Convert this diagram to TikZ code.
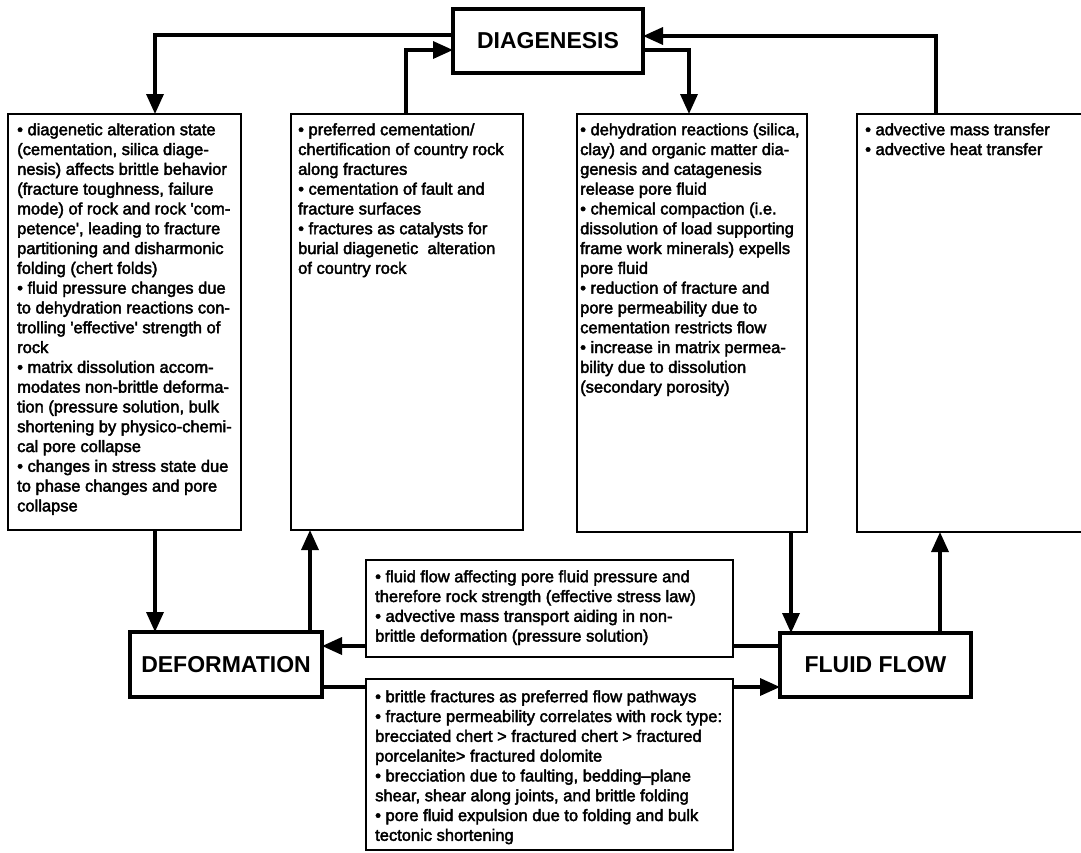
\documentclass[tikz,border=0pt]{standalone}
\usepackage{fontspec}
\setmainfont{Liberation Sans}
\newfontfamily\bodyfont{Liberation Sans}[FakeBold=2.5]
\usetikzlibrary{arrows.meta}
\newcommand{\sq}{\textquotesingle}
\newcommand{\bul}{\textbullet\ }
\tikzset{
  textframe/.style={draw=black, line width=2pt, inner sep=0pt, outer sep=0pt, anchor=north west},
  keybox/.style={draw=black, line width=3.6pt, inner sep=0pt, outer sep=0pt, font=\bfseries\fontsize{23}{27}\selectfont},
  txt/.style={anchor=north west, inner sep=0pt, align=left, font=\bodyfont\fontsize{16.5}{19.8}\selectfont},
  conn/.style={line width=3.4pt, -{Triangle[length=20pt,width=17pt]}},
  bareline/.style={line width=3.4pt},
}
\begin{document}
\begin{tikzpicture}[x=1pt,y=-1pt]
\useasboundingbox (0,0) rectangle (1081,852);
\clip (0,0) rectangle (1081,852);
\fill[white] (0,0) rectangle (1081,852);

% key boxes
\node[keybox, minimum width=190pt, minimum height=64pt] (diag) at (548,41) {DIAGENESIS};
\node[keybox, minimum width=192pt, minimum height=65pt] (def) at (226,664.5) {DEFORMATION};
\node[keybox, minimum width=191pt, minimum height=64pt] (ff) at (875.5,665) {FLUID FLOW};

% text frames
\node[textframe, minimum width=233pt, minimum height=416pt] (b1) at (8,114) {};
\node[textframe, minimum width=232pt, minimum height=416pt] (b2) at (291,114) {};
\node[textframe, minimum width=230pt, minimum height=418pt] (b3) at (577,114) {};
\node[textframe, minimum width=240pt, minimum height=418pt] (b4) at (857,114) {};
\node[textframe, minimum width=367pt, minimum height=97pt] (m1) at (366,560) {};
\node[textframe, minimum width=367pt, minimum height=171pt] (m2) at (366,679) {};

% texts
\node[txt] (t1) at (17,122) {\rule{0pt}{13pt}\bul diagenetic alteration state\\
(cementation, silica diage-\\
nesis) affects brittle behavior\\
(fracture toughness, failure\\
mode) of rock and rock \sq com-\\
petence\sq, leading to fracture\\
partitioning and disharmonic\\
folding (chert folds)\\
\bul fluid pressure changes due\\
to dehydration reactions con-\\
trolling \sq effective\sq\ strength of\\
rock\\
\bul matrix dissolution accom-\\
modates non-brittle deforma-\\
tion (pressure solution, bulk\\
shortening by physico-chemi-\\
cal pore collapse\\
\bul changes in stress state due\\
to phase changes and pore\\
collapse};

\node[txt] (t2) at (298,122) {\rule{0pt}{13pt}\bul preferred cementation/\\
chertification of country rock\\
along fractures\\
\bul cementation of fault and\\
fracture surfaces\\
\bul fractures as catalysts for\\
burial diagenetic\ \ alteration\\
of country rock};

\node[txt] (t3) at (580,122) {\rule{0pt}{13pt}\bul dehydration reactions (silica,\\
clay) and organic matter dia-\\
genesis and catagenesis\\
release pore fluid\\
\bul chemical compaction (i.e.\\
dissolution of load supporting\\
frame work minerals) expells\\
pore fluid\\
\bul reduction of fracture and\\
pore permeability due to\\
cementation restricts flow\\
\bul increase in matrix permea-\\
bility due to dissolution\\
(secondary porosity)};

\node[txt] (t4) at (865,122) {\rule{0pt}{13pt}\bul advective mass transfer\\
\bul advective heat transfer};

\node[txt] (tm1) at (375,569) {\rule{0pt}{13pt}\bul fluid flow affecting pore fluid pressure and\\
therefore rock strength (effective stress law)\\
\bul advective mass transport aiding in non-\\
brittle deformation (pressure solution)};

\node[txt] (tm2) at (375,689) {\rule{0pt}{13pt}\bul brittle fractures as preferred flow pathways\\
\bul fracture permeability correlates with rock type:\\
brecciated chert > fractured chert > fractured\\
porcelanite> fractured dolomite\\
\bul brecciation due to faulting, bedding\textendash plane\\
shear, shear along joints, and brittle folding\\
\bul pore fluid expulsion due to folding and bulk\\
tectonic shortening};

% connector guide coordinates
\coordinate (k1) at (155,35);
\coordinate (k2) at (406,50);
\coordinate (k3) at (689,50);
\coordinate (k4) at (936,36);
\coordinate (k5) at (310,0);
\coordinate (k6) at (791,0);
\coordinate (k7) at (940,0);
\coordinate (k8) at (0,646);
\coordinate (k9) at (0,687);

% connectors
\draw[conn] (diag.west |- k1) -| (b1.north -| k1);
\draw[conn] (b2.north -| k2) |- (diag.west |- k2);
\draw[conn] (diag.east |- k3) -| (b3.north -| k3);
\draw[conn] (b4.north -| k4) |- (diag.east |- k4);
\draw[conn] (b1.south -| k1) -- (def.north -| k1);
\draw[conn] (def.north -| k5) -- (b2.south -| k5);
\draw[conn] (b3.south -| k6) -- (ff.north -| k6);
\draw[conn] (ff.north -| k7) -- (b4.south -| k7);
\draw[bareline] (ff.west |- k8) -- (m1.east |- k8);
\draw[conn] (m1.west |- k8) -- (def.east |- k8);
\draw[bareline] (def.east |- k9) -- (m2.west |- k9);
\draw[conn] (m2.east |- k9) -- (ff.west |- k9);
\end{tikzpicture}
\end{document}
